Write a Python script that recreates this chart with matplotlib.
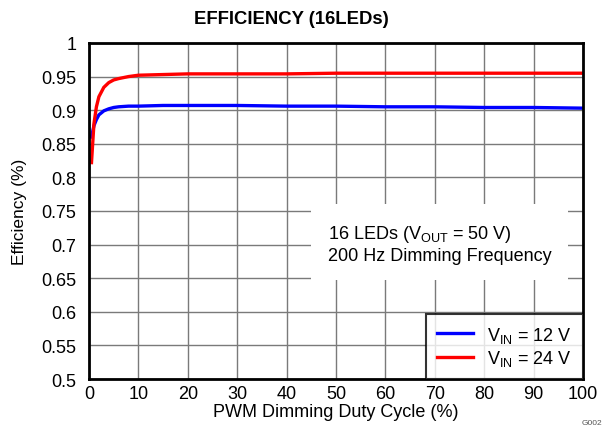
import matplotlib.pyplot as plt
import numpy as np

plt.rcParams['font.family'] = ['Liberation Sans', 'DejaVu Sans']

# duty cycle (%) and efficiency
duty = [0.5, 1, 1.5, 2, 3, 4, 5, 6, 8, 10, 15, 20, 30, 40, 50, 60, 70, 80, 90, 100]
eff_12v = [0.860, 0.877, 0.886, 0.893, 0.899, 0.902, 0.904, 0.905, 0.906, 0.906,
           0.907, 0.907, 0.907, 0.906, 0.906, 0.905, 0.905, 0.904, 0.904, 0.903]
eff_24v = [0.822, 0.880, 0.905, 0.920, 0.934, 0.941, 0.945, 0.947, 0.950, 0.952,
           0.953, 0.954, 0.954, 0.954, 0.955, 0.955, 0.955, 0.955, 0.955, 0.955]

fig = plt.figure(figsize=(6.08, 4.31), dpi=100)
ax = fig.add_axes([0.1464, 0.1183, 0.8125, 0.7797])

ax.plot(duty, eff_12v, color='#0000ff', lw=2.4, label=r'V$_{\mathregular{IN}}$ = 12 V')
ax.plot(duty, eff_24v, color='#ff0000', lw=2.4, label=r'V$_{\mathregular{IN}}$ = 24 V')

ax.set_xlim(0, 100)
ax.set_ylim(0.5, 1)
ax.set_xticks(np.arange(0, 101, 10))
ax.set_yticks(np.arange(0.5, 1.001, 0.05))
ax.set_yticklabels(['0.5', '0.55', '0.6', '0.65', '0.7', '0.75', '0.8', '0.85', '0.9', '0.95', '1'])
ax.tick_params(length=0, labelsize=13)
ax.tick_params(axis='y', pad=9)
ax.tick_params(axis='x', pad=4)
ax.grid(True, color='#7a7a7a', lw=1)
ax.set_axisbelow(True)
for s in ax.spines.values():
    s.set_linewidth(2)

ax.set_xlabel('PWM Dimming Duty Cycle (%)', fontsize=13, labelpad=1)
ax.set_ylabel('Efficiency (%)', fontsize=12.5, labelpad=10)
fig.text(291 / 608, 1 - 20 / 431, 'EFFICIENCY (16LEDs)', fontsize=13.3,
         fontweight='bold', ha='center', va='center')

ax.text(48.4, 0.702, '16 LEDs (V$_{\\mathregular{OUT}}$ = 50 V)\n200 Hz Dimming Frequency',
        fontsize=13, ha='left', va='center', linespacing=1.2,
        bbox=dict(facecolor='white', edgecolor='none', pad=12))

leg = ax.legend(loc='lower right', fontsize=13, frameon=True, fancybox=False,
                borderaxespad=0, handlelength=2.0, handletextpad=0.8,
                borderpad=0.6, labelspacing=0.2)
leg.get_frame().set_edgecolor('black')
leg.get_frame().set_linewidth(1.5)

fig.text(0.99, 0.01, 'G002', fontsize=6, color='#555555', ha='right', va='bottom')

fig.savefig('out.png', dpi=100)
